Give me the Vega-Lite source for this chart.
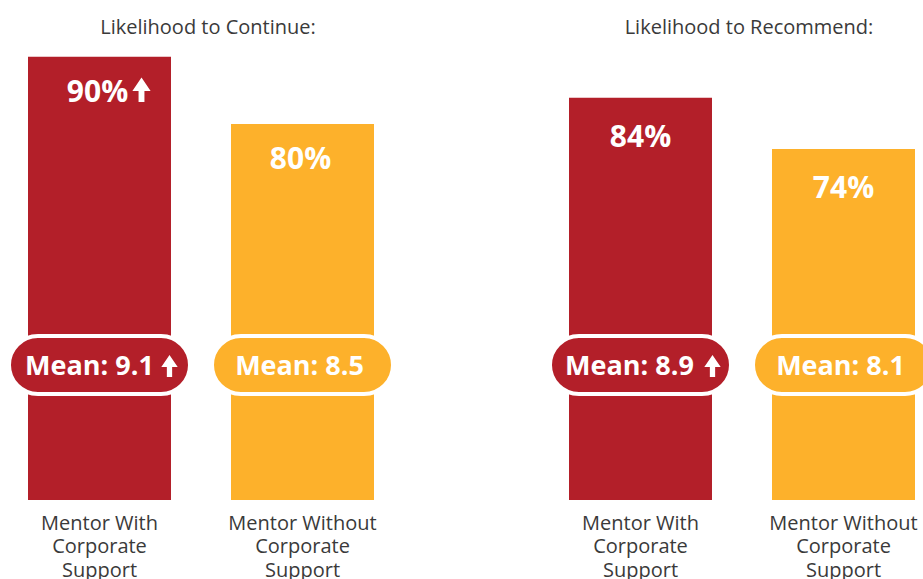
{
  "$schema": "https://vega.github.io/schema/vega-lite/v6.json",
  "background": "white",
  "padding": {"left": 0, "top": 18, "right": 0, "bottom": 0},
  "autosize": {"type": "pad"},
  "config": {
    "view": {"stroke": null},
    "font": "Open Sans",
    "concat": {"spacing": 139},
    "title": {"fontSize": 20, "fontWeight": "normal", "color": "#3a3a3a", "anchor": "middle", "offset": 12, "dx": 7}
  },
  "datasets": {
    "continue": [
      {"group": "Mentor With Corporate Support", "pct": 0.90, "mean": 9.1, "sig": true},
      {"group": "Mentor Without Corporate Support", "pct": 0.80, "mean": 8.5, "sig": false}
    ],
    "recommend": [
      {"group": "Mentor With Corporate Support", "pct": 0.84, "mean": 8.9, "sig": true},
      {"group": "Mentor Without Corporate Support", "pct": 0.74, "mean": 8.1, "sig": false}
    ]
  },
  "resolve": {"scale": {"y": "independent", "x": "independent"}},
  "hconcat": [
    {
      "width": 346,
      "height": 450,
      "title": "Likelihood to Continue:",
      "data": {"name": "continue"},
      "transform": [{"calculate": "'Mean: ' + format(datum.mean, '.1f')", "as": "meanLabel"}],
      "encoding": {
        "x": {
          "field": "group", "type": "nominal", "sort": null,
          "scale": {"paddingInner": 0.2956, "paddingOuter": 0},
          "axis": {"title": null, "domain": false, "ticks": false, "labelAngle": 0, "labelFontSize": 20, "labelColor": "#3a3a3a", "labelPadding": 13, "labelLineHeight": 23.5, "labelLimit": 300,
            "labelExpr": "[split(datum.label, ' ')[0] + ' ' + split(datum.label, ' ')[1], split(datum.label, ' ')[2], split(datum.label, ' ')[3]]"}
        },
        "color": {"field": "group", "type": "nominal", "scale": {"domain": ["Mentor With Corporate Support", "Mentor Without Corporate Support"], "range": ["#B31F29", "#FDB12B"]}, "legend": null}
      },
      "layer": [
        {
          "mark": {"type": "bar"},
          "encoding": {
            "y": {"field": "pct", "type": "quantitative", "scale": {"domain": [0.2413, 0.9099], "zero": false, "nice": false}, "axis": null},
            "y2": {"datum": 0.2413}
          }
        },
        {
          "mark": {"type": "point", "shape": "M -0.6796 -0.3204 L 0.6796 -0.3204 A 0.3204 0.3204 0 0 1 0.6796 0.3204 L -0.6796 0.3204 A 0.3204 0.3204 0 0 1 -0.6796 -0.3204 Z", "size": 32761, "filled": true, "opacity": 1, "stroke": "white", "strokeWidth": 4},
          "encoding": {"y": {"datum": 0.4419, "type": "quantitative", "axis": null}}
        },
        {
          "transform": [{"filter": "datum.sig"}],
          "mark": {"type": "text", "fontSize": 27, "fontWeight": "bold", "baseline": "middle", "dx": -10, "dy": 2},
          "encoding": {"y": {"datum": 0.4419, "type": "quantitative", "axis": null}, "text": {"field": "meanLabel"}, "color": {"value": "white"}}
        },
        {
          "transform": [{"filter": "!datum.sig"}],
          "mark": {"type": "text", "fontSize": 27, "fontWeight": "bold", "baseline": "middle", "dx": -3, "dy": 2},
          "encoding": {"y": {"datum": 0.4419, "type": "quantitative", "axis": null}, "text": {"field": "meanLabel"}, "color": {"value": "white"}}
        },
        {
          "transform": [{"filter": "datum.sig"}],
          "mark": {"type": "point", "shape": "M 0 -1 L 0.745 0.1 L 0.24 0.1 L 0.24 1 L -0.24 1 L -0.24 0.1 L -0.745 0.1 Z", "size": 484, "filled": true, "opacity": 1, "xOffset": 70, "yOffset": 1},
          "encoding": {"y": {"datum": 0.4419, "type": "quantitative", "axis": null}, "color": {"value": "white"}}
        },
        {
          "mark": {"type": "text", "fontSize": 30, "fontWeight": "bold", "baseline": "middle", "dy": 36, "dx": -2},
          "encoding": {"y": {"field": "pct", "type": "quantitative", "axis": null}, "text": {"field": "pct", "format": ".0%"}, "color": {"value": "white"}}
        },
        {
          "transform": [{"filter": "datum.sig"}],
          "mark": {"type": "point", "shape": "M 0 -1 L 0.745 0.1 L 0.24 0.1 L 0.24 1 L -0.24 1 L -0.24 0.1 L -0.745 0.1 Z", "size": 600, "filled": true, "opacity": 1, "xOffset": 42, "yOffset": 33},
          "encoding": {"y": {"field": "pct", "type": "quantitative", "axis": null}, "color": {"value": "white"}}
        }
      ]
    },
    {
      "width": 346,
      "height": 450,
      "title": "Likelihood to Recommend:",
      "data": {"name": "recommend"},
      "transform": [{"calculate": "'Mean: ' + format(datum.mean, '.1f')", "as": "meanLabel"}],
      "encoding": {
        "x": {
          "field": "group", "type": "nominal", "sort": null,
          "scale": {"paddingInner": 0.2956, "paddingOuter": 0},
          "axis": {"title": null, "domain": false, "ticks": false, "labelAngle": 0, "labelFontSize": 20, "labelColor": "#3a3a3a", "labelPadding": 13, "labelLineHeight": 23.5, "labelLimit": 300,
            "labelExpr": "[split(datum.label, ' ')[0] + ' ' + split(datum.label, ' ')[1], split(datum.label, ' ')[2], split(datum.label, ' ')[3]]"}
        },
        "color": {"field": "group", "type": "nominal", "scale": {"domain": ["Mentor With Corporate Support", "Mentor Without Corporate Support"], "range": ["#B31F29", "#FDB12B"]}, "legend": null}
      },
      "layer": [
        {
          "mark": {"type": "bar"},
          "encoding": {
            "y": {"field": "pct", "type": "quantitative", "scale": {"domain": [0.0558, 0.9330], "zero": false, "nice": false}, "axis": null},
            "y2": {"datum": 0.0558}
          }
        },
        {
          "mark": {"type": "point", "shape": "M -0.6796 -0.3204 L 0.6796 -0.3204 A 0.3204 0.3204 0 0 1 0.6796 0.3204 L -0.6796 0.3204 A 0.3204 0.3204 0 0 1 -0.6796 -0.3204 Z", "size": 32761, "filled": true, "opacity": 1, "stroke": "white", "strokeWidth": 4},
          "encoding": {"y": {"datum": 0.3190, "type": "quantitative", "axis": null}}
        },
        {
          "transform": [{"filter": "datum.sig"}],
          "mark": {"type": "text", "fontSize": 27, "fontWeight": "bold", "baseline": "middle", "dx": -11, "dy": 2},
          "encoding": {"y": {"datum": 0.3190, "type": "quantitative", "axis": null}, "text": {"field": "meanLabel"}, "color": {"value": "white"}}
        },
        {
          "transform": [{"filter": "!datum.sig"}],
          "mark": {"type": "text", "fontSize": 27, "fontWeight": "bold", "baseline": "middle", "dx": -3, "dy": 2},
          "encoding": {"y": {"datum": 0.3190, "type": "quantitative", "axis": null}, "text": {"field": "meanLabel"}, "color": {"value": "white"}}
        },
        {
          "transform": [{"filter": "datum.sig"}],
          "mark": {"type": "point", "shape": "M 0 -1 L 0.745 0.1 L 0.24 0.1 L 0.24 1 L -0.24 1 L -0.24 0.1 L -0.745 0.1 Z", "size": 484, "filled": true, "opacity": 1, "xOffset": 72, "yOffset": 1},
          "encoding": {"y": {"datum": 0.3190, "type": "quantitative", "axis": null}, "color": {"value": "white"}}
        },
        {
          "mark": {"type": "text", "fontSize": 30, "fontWeight": "bold", "baseline": "middle", "dy": 40},
          "encoding": {"y": {"field": "pct", "type": "quantitative", "axis": null}, "text": {"field": "pct", "format": ".0%"}, "color": {"value": "white"}}
        }
      ]
    }
  ]
}
